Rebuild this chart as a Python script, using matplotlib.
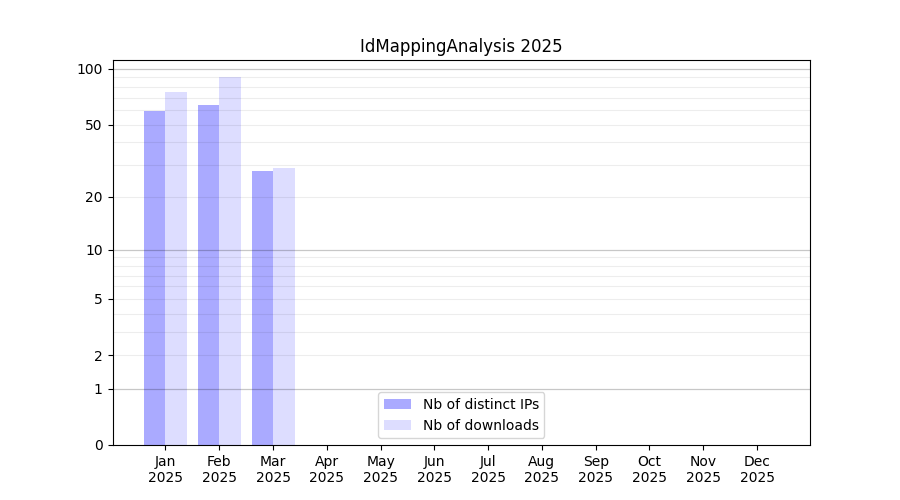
import numpy as np
import matplotlib.pyplot as plt

months = ['Jan', 'Feb', 'Mar', 'Apr', 'May', 'Jun',
          'Jul', 'Aug', 'Sep', 'Oct', 'Nov', 'Dec']
year = '2025'
distinct_ips = [59, 64, 28, 0, 0, 0, 0, 0, 0, 0, 0, 0]
downloads = [75, 90, 29, 0, 0, 0, 0, 0, 0, 0, 0, 0]
y_ticks = [0, 1, 2, 5, 10, 20, 50, 100]


def forward(v):
    return np.log10(1 + np.clip(v, 0, None))


def inverse(v):
    return 10 ** v - 1


def main():
    fig, ax = plt.subplots(figsize=(9, 5), dpi=100)
    x = np.arange(len(months))
    w = 0.4

    ax.bar(x - w / 2, distinct_ips, w, color='#aaaaff', label='Nb of distinct IPs')
    ax.bar(x + w / 2, downloads, w, color='#ddddff', label='Nb of downloads')

    ax.set_yscale('function', functions=(forward, inverse))
    ax.set_ylim(0, max(downloads) * 1.24)
    ax.set_xlim(-0.985, 11.985)

    ax.set_yticks(y_ticks)
    ax.set_yticklabels([str(t) for t in y_ticks])
    ax.yaxis.set_minor_locator(plt.NullLocator())

    # faint lines at every 1-2-...-9 step, darker at decades
    faint = [v * d for d in (1, 10) for v in range(2, 10)] + [100 * v for v in range(2, 10)]
    for v in faint:
        ax.axhline(v, color='black', alpha=0.07, lw=0.8, zorder=1.5)
    for v in (1, 10, 100):
        ax.axhline(v, color='black', alpha=0.22, lw=0.9, zorder=1.5)

    ax.set_xticks(x)
    ax.set_xticklabels([f'{m}\n{year}' for m in months])
    ax.set_title('IdMappingAnalysis 2025')
    ax.legend(loc='lower center')

    plt.savefig('out.png')


if __name__ == "__main__":
    main()
